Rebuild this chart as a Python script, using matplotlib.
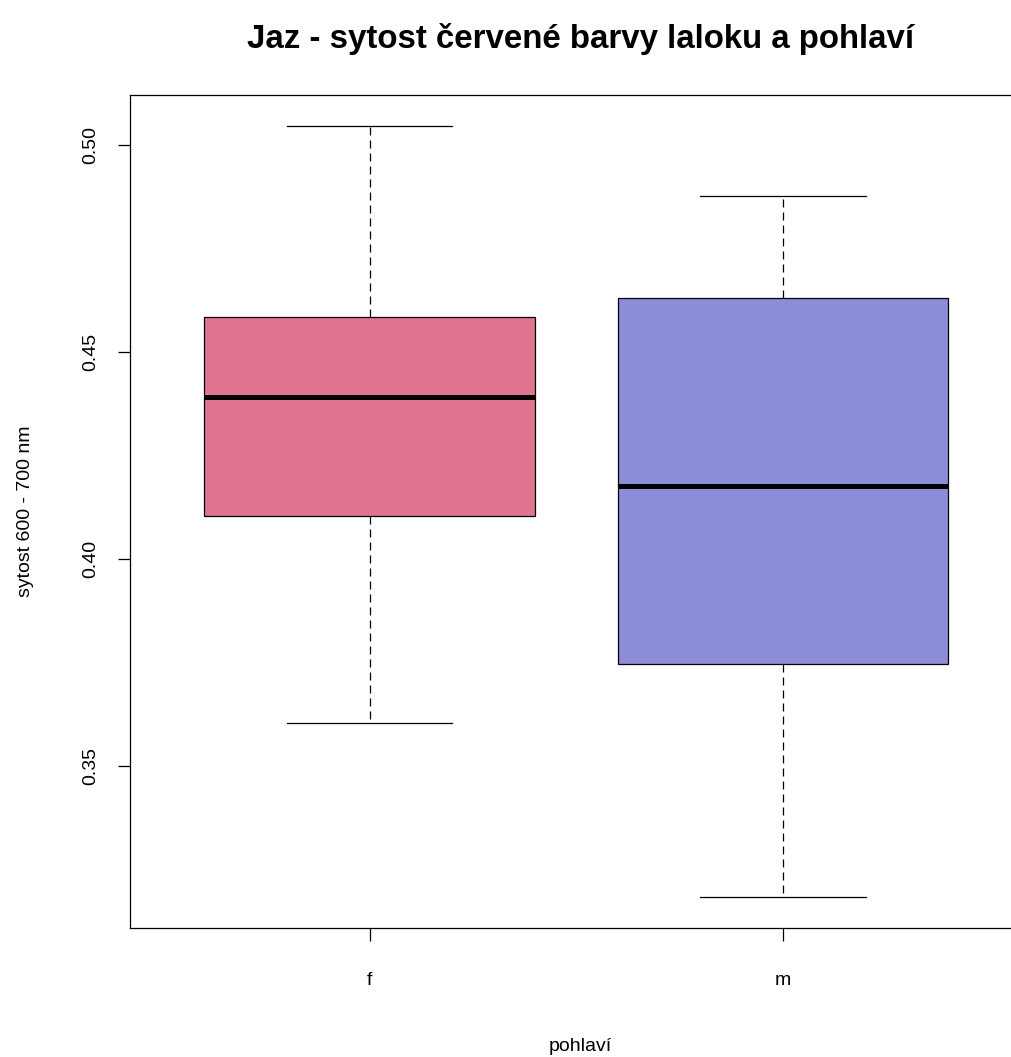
import matplotlib
matplotlib.use("Agg")
import matplotlib.pyplot as plt

plt.rcParams['font.family'] = ['Liberation Sans', 'DejaVu Sans']

# summary statistics per group (lower whisker, Q1, median, Q3, upper whisker)
groups = ['f', 'm']
whislo = [0.3604, 0.3184]
q1 = [0.4104, 0.3746]
med = [0.4391, 0.4176]
q3 = [0.4585, 0.4630]
whishi = [0.5046, 0.4877]
colors = ['#E07591', '#8C8CD8']

stats = []
for i, g in enumerate(groups):
    stats.append(dict(label=g, whislo=whislo[i], q1=q1[i], med=med[i],
                      q3=q3[i], whishi=whishi[i], fliers=[]))

fig = plt.figure(figsize=(10.12, 10.57), dpi=100)
ax = fig.add_axes([0.1285, 0.122, 0.89, 0.788])

lw = 0.9
bp = ax.bxp(stats, positions=[1, 2], widths=0.8, patch_artist=True,
            showfliers=False,
            boxprops=dict(linewidth=lw, edgecolor='black'),
            medianprops=dict(color='black', linewidth=3.6, solid_capstyle='butt'),
            whiskerprops=dict(color='black', linewidth=lw, linestyle=(0, (6.4, 4))),
            capprops=dict(color='black', linewidth=lw),
            capwidths=0.4)
for patch, c in zip(bp['boxes'], colors):
    patch.set_facecolor(c)

# x range: 0.42 .. 2.58 spans 130..1022 px, wider axes box keeps the same scale
ax.set_xlim(0.42, 0.42 + 2.16 * 0.89 / 0.882)
ax.set_ylim(0.3109, 0.5121)
ax.set_yticks([0.35, 0.40, 0.45, 0.50])
ax.set_yticklabels(['0.35', '0.40', '0.45', '0.50'], rotation=90, va='center')
ax.set_xticks([1, 2])
ax.set_xticklabels(groups)
ax.tick_params(axis='both', length=9, width=lw, labelsize=14)
ax.tick_params(axis='y', pad=13)
ax.tick_params(axis='x', pad=23)
for s in ax.spines.values():
    s.set_linewidth(lw)

ax.set_title('Jaz - sytost červené barvy laloku a pohlaví', fontsize=23.8,
             fontweight='bold', pad=34)
ax.set_xlabel('pohlaví', fontsize=14, labelpad=35)
ax.set_ylabel('sytost 600 - 700 nm', fontsize=14, labelpad=35)

fig.savefig('out.png', dpi=100)
